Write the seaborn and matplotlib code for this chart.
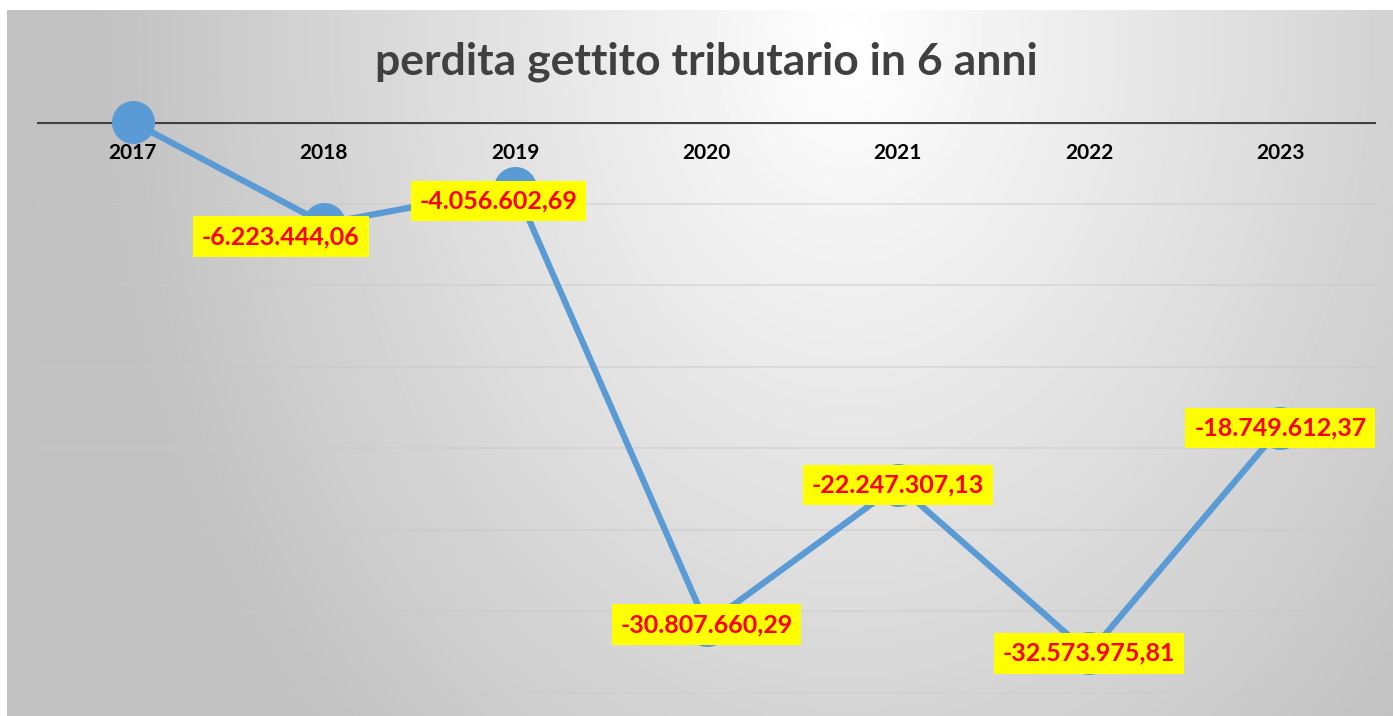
import numpy as np
import pandas as pd
import seaborn as sns
import matplotlib.pyplot as plt

sns.set_style("white")
plt.rcParams["font.family"] = ["Lato", "DejaVu Sans"]

# data
years = ["2017", "2018", "2019", "2020", "2021", "2022", "2023"]
values = [0.0, -6223444.06, -4056602.69, -30807660.29,
          -22247307.13, -32573975.81, -18749612.37]
title = "perdita gettito tributario in 6 anni"


def it_fmt(v):
    s = f"{v:,.2f}"
    return s.replace(",", "X").replace(".", ",").replace("X", ".")


data = pd.DataFrame({"pos": range(len(years)), "year": years, "value": values})

W, H = 1393, 716
fig = plt.figure(figsize=(W / 100, H / 100), dpi=100)
fig.patch.set_facecolor("white")

# gradient background (white near the title, gray toward the edges)
bg = fig.add_axes([7 / W, 0, 1 - 7 / W, (H - 10) / H], zorder=-5)
gx, gy = np.meshgrid(np.linspace(7, W, 400), np.linspace(10, H, 220))
r = np.sqrt(((gx - 850) / 760) ** 2 + ((gy - 40) / 1000) ** 2)
shade = 1 - 0.245 * np.clip(r, 0, 1)
bg.imshow(shade, cmap="gray", vmin=0, vmax=1, aspect="auto",
          extent=[0, 1, 0, 1], origin="upper", interpolation="bilinear")
bg.set_axis_off()

ax = fig.add_axes([37 / W, 23 / H, (1376 - 37) / W, (693 - 122) / H])
ax.set_facecolor("none")

# faint gridlines
for g in np.arange(-5e6, -36e6, -5e6):
    ax.axhline(g, color="#c8c8c8", lw=1.2, alpha=0.55, zorder=0)
ax.axhline(0, color="#404040", lw=3, zorder=1)

sns.lineplot(data=data, x="pos", y="value", ax=ax, color="#5B9BD5",
             linewidth=4.5, marker="o", markersize=31,
             markeredgewidth=0, zorder=2, clip_on=False)

ax.set_xlim(-0.5, 6.5)
ax.set_ylim(-35e6, 0)
ax.set_xticks([])
ax.set_yticks([])
ax.set_xlabel("")
ax.set_ylabel("")
for s in ax.spines.values():
    s.set_visible(False)

# category labels just below the zero line
for i, y in enumerate(years):
    ax.annotate(y, (i, 0), xytext=(0, -31), textcoords="offset pixels",
                ha="center", va="center", fontsize=15, fontweight="bold",
                color="black")

# value labels
offsets = {1: (-43, -13), 2: (-17, -13)}
for i, v in enumerate(values):
    if v == 0:
        continue
    dx, dy = offsets.get(i, (0, 0))
    ax.annotate(it_fmt(v), (i, v), xytext=(dx, dy), textcoords="offset pixels",
                ha="center", va="center", fontsize=18, fontweight="bold",
                color="#FF0000", zorder=5,
                bbox=dict(boxstyle="square,pad=0.35", fc="#FFFF00", ec="none"))

fig.text(0.507, 1 - 62 / H, title, ha="center", va="center",
         fontsize=32, fontweight="bold", color="#404040")

fig.savefig("out.png", dpi=100)
